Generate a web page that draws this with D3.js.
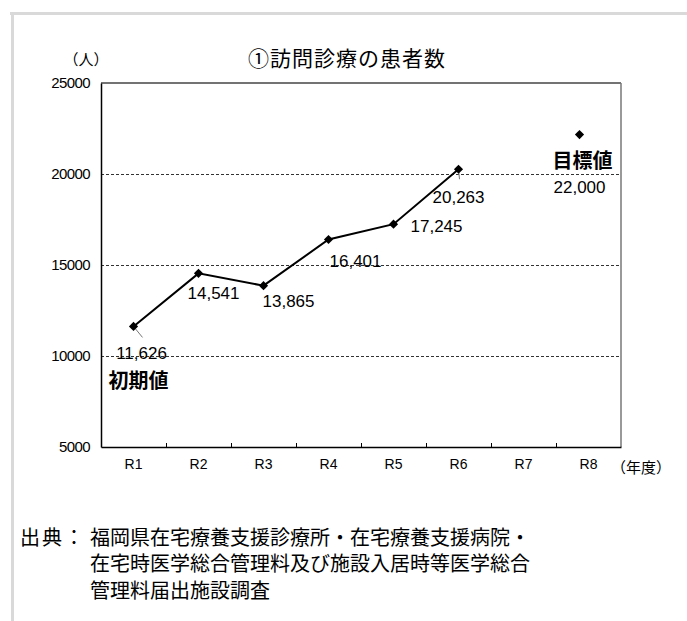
<!DOCTYPE html>
<html>
<head>
<meta charset="utf-8">
<script src="https://cdn.jsdelivr.net/npm/d3@7"></script>
<style>
  body { margin: 0; background: #fff; }
  text { font-family: "Liberation Sans", Arial, sans-serif; fill: #000; }
  .jp { font-family: "Noto Sans CJK JP", sans-serif; }
</style>
</head>
<body>
<div id="chart-area"></div>
<script>
/*
*    訪問診療の患者数
*/

// data
var years = ["R1", "R2", "R3", "R4", "R5", "R6", "R7", "R8"];
var actualYears = ["R1", "R2", "R3", "R4", "R5", "R6"];
var patients = [11626, 14541, 13865, 16401, 17245, 20263];
var targetYear = "R8";
var targetValue = 22000;
var yTicks = [5000, 10000, 15000, 20000, 25000];
var gridValues = [10000, 15000, 20000];

// label placement relative to each point (layout only)
var labelOffsets = [[8, 27], [15, 20], [25, 16], [27, 22], [43, 2], [0, 28]];

var W = 687, H = 621;
var plotL = 101, plotR = 621, plotT = 83, plotB = 447;

var svg = d3.select("#chart-area")
    .append("svg")
    .attr("width", W)
    .attr("height", H);

// outer frame (light gray, top and left only)
svg.append("line").attr("x1", 10).attr("x2", W).attr("y1", 13.5).attr("y2", 13.5)
    .attr("stroke", "#d9d9d9").attr("stroke-width", 3);
svg.append("line").attr("x1", 12.5).attr("x2", 12.5).attr("y1", 12).attr("y2", H)
    .attr("stroke", "#d9d9d9").attr("stroke-width", 3);

var x = d3.scaleBand()
    .domain(years)
    .range([plotL, plotR]);

var y = d3.scaleLinear()
    .domain([5000, 25000])
    .range([plotB, plotT]);

var fmt = d3.format(",");

// title
svg.append("text")
    .attr("class", "jp")
    .attr("x", 347).attr("y", 57)
    .attr("text-anchor", "middle")
    .attr("dominant-baseline", "central")
    .style("font-size", "21px")
    .style("letter-spacing", "1px")
    .text("①訪問診療の患者数");

svg.append("text")
    .attr("class", "jp")
    .attr("x", 86).attr("y", 58)
    .attr("text-anchor", "middle")
    .attr("dominant-baseline", "central")
    .style("font-size", "15px")
    .text("（人）");

// grid lines
svg.selectAll(".grid").data(gridValues).enter()
    .append("line")
        .attr("class", "grid")
        .attr("x1", plotL).attr("x2", plotR)
        .attr("y1", (d) => { return Math.round(y(d)) + 0.5; })
        .attr("y2", (d) => { return Math.round(y(d)) + 0.5; })
        .attr("stroke", "#333")
        .attr("stroke-width", 1)
        .attr("stroke-dasharray", "3,2");

// plot frame
svg.append("line").attr("x1", plotL).attr("x2", plotR).attr("y1", plotT).attr("y2", plotT)
    .attr("stroke", "#444").attr("stroke-width", 1.5);
svg.append("line").attr("x1", plotR).attr("x2", plotR).attr("y1", plotT).attr("y2", plotB)
    .attr("stroke", "#777").attr("stroke-width", 1.5);

// y axis labels
var yAxis = d3.axisLeft(y)
    .tickValues(yTicks)
    .tickSize(0)
    .tickPadding(11)
    .tickFormat(d3.format("d"));
var gy = svg.append("g")
    .attr("transform", "translate(" + plotL + ",0)")
    .call(yAxis);
gy.select(".domain").attr("stroke", "#000").attr("stroke-width", 1.5);
gy.selectAll("text")
    .style("font-size", "15px")
    .style("letter-spacing", "-0.6px")
    .style("font-family", "'Liberation Sans', Arial, sans-serif");

// x axis with ticks between categories
var xAxis = d3.axisBottom(x)
    .tickSize(0)
    .tickPadding(12);
var gx = svg.append("g")
    .attr("transform", "translate(0," + plotB + ")")
    .call(xAxis);
gx.select(".domain").attr("stroke", "#000").attr("stroke-width", 1.5);
gx.selectAll("text")
    .style("font-size", "14px")
    .style("font-family", "'Liberation Sans', Arial, sans-serif");
svg.selectAll(".xtick").data(years.slice(1)).enter()
    .append("line")
        .attr("class", "xtick")
        .attr("x1", (d) => { return Math.round(x(d)) + 0.5; })
        .attr("x2", (d) => { return Math.round(x(d)) + 0.5; })
        .attr("y1", plotB).attr("y2", plotB - 4)
        .attr("stroke", "#000");

svg.append("text")
    .attr("class", "jp")
    .attr("x", 641).attr("y", 466)
    .attr("text-anchor", "middle")
    .attr("dominant-baseline", "central")
    .style("font-size", "15px")
    .text("（年度）");

// data points
var points = actualYears.map((d, i) => {
    return { year: d, value: patients[i], px: x(d) + x.bandwidth() / 2, py: y(patients[i]) };
});

// leader lines for R1 and R6 labels
svg.append("line")
    .attr("x1", points[0].px).attr("y1", points[0].py)
    .attr("x2", points[0].px + 9).attr("y2", points[0].py + 11)
    .attr("stroke", "#777").attr("stroke-width", 1);
svg.append("line")
    .attr("x1", points[5].px).attr("y1", points[5].py)
    .attr("x2", points[5].px + 1).attr("y2", points[5].py + 10)
    .attr("stroke", "#777").attr("stroke-width", 1);

var line = d3.line()
    .x((d) => { return d.px; })
    .y((d) => { return d.py; });

svg.append("path")
    .datum(points)
    .attr("d", line)
    .attr("fill", "none")
    .attr("stroke", "#000")
    .attr("stroke-width", 2);

var diamond = d3.symbol().type(d3.symbolSquare).size(42);

svg.selectAll(".pt").data(points).enter()
    .append("path")
        .attr("class", "pt")
        .attr("d", diamond)
        .attr("transform", (d) => { return "translate(" + d.px + "," + d.py + ") rotate(45)"; })
        .attr("fill", "#000");

svg.selectAll(".lbl").data(points).enter()
    .append("text")
        .attr("class", "lbl")
        .attr("x", (d, i) => { return d.px + labelOffsets[i][0]; })
        .attr("y", (d, i) => { return d.py + labelOffsets[i][1]; })
        .attr("text-anchor", "middle")
        .attr("dominant-baseline", "central")
        .style("font-size", "17px")
        .text((d) => { return fmt(d.value); });

svg.append("text")
    .attr("class", "jp")
    .attr("x", points[0].px + 5).attr("y", points[0].py + 53)
    .attr("text-anchor", "middle")
    .attr("dominant-baseline", "central")
    .style("font-size", "20px")
    .style("font-weight", "bold")
    .text("初期値");

// target
var tx = x(targetYear) + x.bandwidth() / 2 - 9;
var ty = y(targetValue) - 3;
svg.append("path")
    .attr("d", diamond)
    .attr("transform", "translate(" + tx + "," + ty + ") rotate(45)")
    .attr("fill", "#000");
svg.append("text")
    .attr("class", "jp")
    .attr("x", tx + 3).attr("y", ty + 25)
    .attr("text-anchor", "middle")
    .attr("dominant-baseline", "central")
    .style("font-size", "20px")
    .style("font-weight", "bold")
    .text("目標値");
svg.append("text")
    .attr("x", tx).attr("y", ty + 53)
    .attr("text-anchor", "middle")
    .attr("dominant-baseline", "central")
    .style("font-size", "17px")
    .text(fmt(targetValue));

// source note
svg.append("text")
    .attr("class", "jp")
    .attr("x", 20).attr("y", 536)
    .attr("dominant-baseline", "central")
    .style("font-size", "20px")
    .style("letter-spacing", "2px")
    .text("出典：");

var sourceLines = [
    "福岡県在宅療養支援診療所・在宅療養支援病院・",
    "在宅時医学総合管理料及び施設入居時等医学総合",
    "管理料届出施設調査"
];
svg.selectAll(".src").data(sourceLines).enter()
    .append("text")
        .attr("class", "src jp")
        .attr("x", 90)
        .attr("y", (d, i) => { return 536 + i * 26.5; })
        .attr("dominant-baseline", "central")
        .style("font-size", "20px")
        .text((d) => { return d; });
</script>
</body>
</html>
